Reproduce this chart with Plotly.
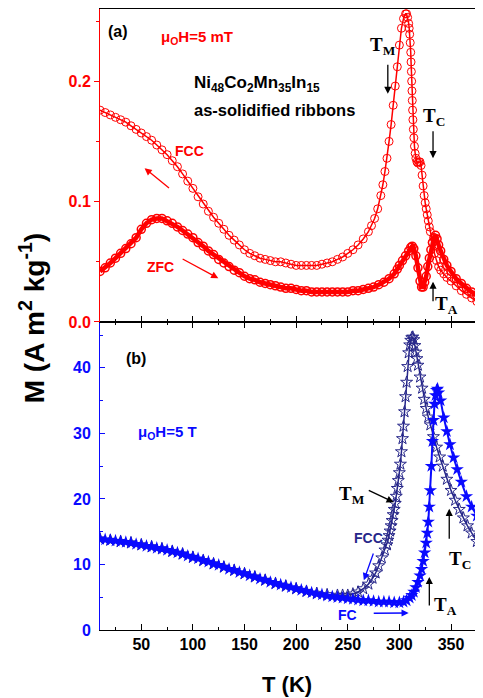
import plotly.graph_objects as go

# ---------------- data: panel (a) 5 mT ----------------
T_fcc_a = [10, 15, 20, 25, 30, 35, 40, 45, 50, 55, 60, 65, 70, 75, 80, 85, 90, 95, 100, 105,
           110, 115, 120, 125, 130, 135, 140, 145, 150, 155, 160, 165, 170, 175, 180, 185, 190,
           195, 200, 205, 210, 215, 220, 225, 230, 235, 240, 245, 250, 255, 260, 265, 270, 273,
           276, 279, 282, 284, 286, 288, 290, 292, 294, 296, 298, 300, 302, 304, 306, 307, 308,
           309, 309.5, 310, 310.5, 311, 311.3, 311.6, 311.9, 312.2, 312.5, 312.8, 313.1, 313.5,
           314, 314.6, 315.3, 316, 317, 318, 319, 320, 321, 322, 323, 324, 325, 326, 327, 328,
           329, 330, 332, 334, 336, 338, 340, 343, 346, 350, 355, 360, 365, 370, 375, 380]
M_fcc_a = [0.176, 0.174, 0.172, 0.170, 0.168, 0.166, 0.163, 0.160, 0.157, 0.154, 0.151, 0.147,
           0.143, 0.139, 0.134, 0.129, 0.123, 0.117, 0.111, 0.104, 0.098, 0.092, 0.087, 0.082,
           0.077, 0.072, 0.068, 0.064, 0.060, 0.057, 0.055, 0.053, 0.052, 0.051, 0.050, 0.050,
           0.049, 0.048, 0.047, 0.047, 0.047, 0.047, 0.047, 0.048, 0.049, 0.050, 0.052, 0.054,
           0.057, 0.060, 0.064, 0.069, 0.075, 0.080, 0.086, 0.094, 0.105, 0.114, 0.125, 0.136,
           0.150, 0.164, 0.180, 0.196, 0.212, 0.230, 0.244, 0.252, 0.256, 0.256, 0.253, 0.248,
           0.244, 0.239, 0.232, 0.224, 0.216, 0.208, 0.200, 0.192, 0.184, 0.176, 0.168, 0.160,
           0.153, 0.146, 0.140, 0.136, 0.133, 0.132, 0.133, 0.133, 0.130, 0.122, 0.113, 0.105,
           0.099, 0.094, 0.089, 0.084, 0.079, 0.075, 0.066, 0.057, 0.051, 0.046, 0.043, 0.040,
           0.037, 0.034, 0.030, 0.026, 0.023, 0.020, 0.017, 0.015]

T_zfc_a = [10, 15, 20, 25, 30, 35, 40, 45, 50, 55, 60, 65, 70, 75, 80, 85, 90, 95, 100, 105,
           110, 115, 120, 125, 130, 135, 140, 145, 150, 155, 160, 165, 170, 175, 180, 185, 190,
           195, 200, 205, 210, 215, 220, 225, 230, 235, 240, 245, 250, 255, 260, 265, 270, 275,
           280, 285, 290, 295, 298, 300, 303, 306, 309, 311, 312.5, 314, 316, 318, 320, 321.5,
           323, 324.5, 326, 327.5, 329, 330.5, 332, 333.5, 335, 336.5, 338, 340, 343, 346, 350,
           355, 360, 365, 370, 375, 380]
M_zfc_a = [0.042, 0.045, 0.049, 0.053, 0.057, 0.061, 0.065, 0.070, 0.077, 0.082, 0.085, 0.086,
           0.086, 0.084, 0.082, 0.079, 0.076, 0.073, 0.070, 0.066, 0.063, 0.059, 0.056, 0.052,
           0.049, 0.046, 0.043, 0.041, 0.038, 0.036, 0.035, 0.033, 0.032, 0.031, 0.030, 0.029,
           0.028, 0.028, 0.027, 0.026, 0.026, 0.025, 0.025, 0.025, 0.025, 0.025, 0.025, 0.025,
           0.025, 0.026, 0.026, 0.027, 0.028, 0.029, 0.031, 0.033, 0.036, 0.040, 0.044, 0.047,
           0.051, 0.055, 0.059, 0.062, 0.063, 0.061, 0.055, 0.045, 0.034, 0.029, 0.029, 0.033,
           0.038, 0.046, 0.053, 0.060, 0.066, 0.070, 0.072, 0.069, 0.064, 0.059, 0.052, 0.047,
           0.042, 0.036, 0.032, 0.028, 0.025, 0.022, 0.020]

# ---------------- data: panel (b) 5 T ----------------
T_fcc_b = [10, 20, 30, 40, 50, 60, 70, 80, 90, 100, 110, 120, 130, 140, 150, 160, 170, 180, 190,
           200, 210, 220, 230, 240, 245, 250, 255, 260, 265, 270, 274, 277, 280, 283, 286, 288,
           289, 290, 291, 292, 293, 294, 295, 296, 297, 298, 299, 300, 301, 302, 303, 304, 305,
           306, 307, 308, 309, 310, 311, 312, 313, 314, 315, 316, 317, 318, 320, 322, 324, 326,
           328, 330, 333, 336, 339, 342, 346, 350, 354, 358, 362, 366, 370, 375, 380]
M_fcc_b = [13.9, 13.7, 13.5, 13.3, 13.0, 12.7, 12.4, 12.0, 11.6, 11.1, 10.6, 10.1, 9.6, 9.1, 8.6,
           8.1, 7.6, 7.1, 6.7, 6.3, 5.9, 5.6, 5.4, 5.3, 5.3, 5.3, 5.5, 5.8, 6.3, 7.0, 7.9, 8.7,
           9.8, 11.0, 12.2, 13.0, 13.7, 14.4, 15.1, 15.9, 16.7, 17.6, 18.4, 19.3, 20.4, 21.6,
           22.8, 24.0, 25.3, 27.2, 29.2, 31.1, 33.3, 35.6, 37.8, 40.2, 42.3, 43.5, 44.2, 44.6,
           44.7, 44.3, 43.4, 42.4, 41.4, 40.4, 38.6, 36.9, 35.2, 33.8, 32.5, 31.3, 29.5, 27.9,
           26.4, 25.0, 23.0, 21.3, 19.8, 18.4, 17.1, 15.9, 14.8, 13.5, 12.2]

T_fc_b = [10, 15, 20, 25, 30, 35, 40, 45, 50, 55, 60, 65, 70, 75, 80, 85, 90, 95, 100, 105, 110,
          115, 120, 125, 130, 135, 140, 145, 150, 155, 160, 165, 170, 175, 180, 185, 190, 195,
          200, 205, 210, 215, 220, 225, 230, 235, 240, 245, 250, 255, 260, 265, 270, 275, 280,
          285, 290, 295, 300, 304, 307, 310, 312, 314, 316, 318, 320, 321.5, 323, 324.5, 326,
          327, 328, 329, 330, 331, 332, 333, 334, 335, 336, 337, 338, 340, 343, 346, 349, 352.5,
          356, 360, 365, 370, 375, 380]
M_fc_b = [13.9, 13.8, 13.7, 13.6, 13.5, 13.4, 13.3, 13.1, 13.0, 12.8, 12.7, 12.5, 12.4, 12.2,
          12.0, 11.8, 11.6, 11.3, 11.1, 10.9, 10.6, 10.4, 10.1, 9.9, 9.6, 9.3, 9.1, 8.8, 8.6,
          8.3, 8.1, 7.8, 7.6, 7.3, 7.1, 6.9, 6.7, 6.5, 6.3, 6.1, 5.9, 5.7, 5.5, 5.4, 5.2, 5.1,
          5.0, 4.9, 4.8, 4.7, 4.6, 4.5, 4.5, 4.4, 4.3, 4.3, 4.3, 4.2, 4.2, 4.3, 4.5, 4.9, 5.3,
          5.8, 6.5, 7.3, 8.3, 9.3, 10.5, 11.8, 13.3, 14.8, 16.5, 18.8, 21.3, 25.0, 28.8, 32.0,
          34.5, 35.8, 36.6, 36.8, 36.2, 35.0, 32.4, 30.3, 28.3, 26.3, 24.5, 22.6, 20.4, 18.8,
          17.4, 16.0]

x_ticks = [50, 100, 150, 200, 250, 300, 350]
ya_ticks = [0.0, 0.1, 0.2]
yb_ticks = [0, 10, 20, 30, 40]

RED = "#ff0000"
BLUE = "#0a0aff"
NAVY = "#27278a"
SANS = "Liberation Sans, Arial, sans-serif"
SERIF = "Liberation Serif, Times New Roman, serif"

fig = go.Figure()

fig.add_trace(go.Scatter(x=T_fcc_a, y=M_fcc_a, xaxis="x2", yaxis="y", mode="lines+markers",
                         line=dict(color=RED, width=1.5),
                         marker=dict(symbol="circle-open", size=8, color=RED, line=dict(width=1))))
fig.add_trace(go.Scatter(x=T_zfc_a, y=M_zfc_a, xaxis="x2", yaxis="y", mode="lines+markers",
                         line=dict(color=RED, width=4.5),
                         marker=dict(symbol="circle-open", size=8, color=RED, line=dict(width=1.5))))
fig.add_trace(go.Scatter(x=T_fcc_b, y=M_fcc_b, xaxis="x", yaxis="y2", mode="lines+markers",
                         line=dict(color=NAVY, width=1.5),
                         marker=dict(symbol="star-open", size=9, color=NAVY, line=dict(width=1))))
fig.add_trace(go.Scatter(x=T_fc_b, y=M_fc_b, xaxis="x", yaxis="y2", mode="lines+markers",
                         line=dict(color=BLUE, width=2),
                         marker=dict(symbol="star", size=10, color=BLUE)))

tickfont_k = dict(family=SANS, size=16, color="black", weight="bold")

fig.update_layout(
    width=475, height=690,
    margin=dict(l=92, r=0, t=1, b=68),
    paper_bgcolor="white", plot_bgcolor="white",
    showlegend=False,
    xaxis=dict(domain=[0, 1], anchor="y2", range=[10, 381], tickvals=x_ticks,
               ticks="inside", ticklen=6, tickwidth=1, tickcolor="black",
               minor=dict(dtick=25, tick0=0, ticks="inside", ticklen=3, tickcolor="black"),
               showline=True, linecolor="black", linewidth=1, mirror="ticks",
               showgrid=False, zeroline=False, tickfont=tickfont_k),
    xaxis2=dict(domain=[0, 1], anchor="y", range=[10, 381], matches="x", tickvals=x_ticks,
                ticks="inside", ticklen=6, tickwidth=1, tickcolor="black",
                minor=dict(dtick=25, tick0=0, ticks="inside", ticklen=3, tickcolor="black"),
                showticklabels=False, showline=True, linecolor="black", linewidth=1,
                mirror=True, showgrid=False, zeroline=False),
    yaxis=dict(domain=[0.496, 1], anchor="x2", range=[0, 0.26], tickvals=ya_ticks,
               tickformat=".1f", ticks="outside", ticklen=5, tickcolor=RED,
               minor=dict(tickvals=[0.05, 0.15, 0.25], ticks="outside", ticklen=3, tickcolor=RED),
               showline=True, linecolor=RED, linewidth=1, showgrid=False, zeroline=False,
               tickfont=dict(family=SANS, size=16, color=RED, weight="bold")),
    yaxis2=dict(domain=[0, 0.496], anchor="x", range=[0, 47], tickvals=yb_ticks,
                ticks="inside", ticklen=5, tickcolor=BLUE,
                minor=dict(tickvals=[5, 15, 25, 35, 45], ticks="inside", ticklen=3, tickcolor=BLUE),
                showline=True, linecolor=BLUE, linewidth=1, showgrid=False, zeroline=False,
                ticklabelstandoff=5,
                tickfont=dict(family=SANS, size=16, color=BLUE, weight="bold")),
)

ann = []

def txt(x, y, text, xr, yr, size, color="black", family=SANS, xanchor="center"):
    ann.append(dict(x=x, y=y, xref=xr, yref=yr, text=text, showarrow=False,
                    xanchor=xanchor, yanchor="middle",
                    font=dict(family=family, size=size, color=color, weight="bold")))

def arrow(x0, y0, x1, y1, xr, yr, color="black"):
    ann.append(dict(x=x1, y=y1, ax=x0, ay=y0, xref=xr, yref=yr, axref=xr, ayref=yr,
                    text="", showarrow=True, arrowhead=2, arrowsize=1.1, arrowwidth=1.3,
                    arrowcolor=color))

# panel (a)
txt(27.8, 0.241, "(a)", "x2", "y", 16)
txt(67.4, 0.236, "μ<sub>O</sub>H=5 mT", "x2", "y", 15, RED, xanchor="left")
txt(99.2, 0.198, "Ni<sub>48</sub>Co<sub>2</sub>Mn<sub>35</sub>In<sub>15</sub>", "x2", "y", 17, xanchor="left")
txt(99.2, 0.176, "as-solidified ribbons", "x2", "y", 16.5, xanchor="left")
txt(96.3, 0.142, "FCC", "x2", "y", 14, RED)
arrow(78.3, 0.1103, 53.2, 0.1278, "x2", "y", RED)
txt(68.3, 0.0457, "ZFC", "x2", "y", 14, RED)
arrow(88.6, 0.053, 124.6, 0.0363, "x2", "y", RED)
txt(284.6, 0.229, "T<sub>M</sub>", "x2", "y", 19, family=SERIF)
arrow(288.8, 0.215, 288.8, 0.1895, "x2", "y")
txt(333.9, 0.170, "T<sub>C</sub>", "x2", "y", 19, family=SERIF)
arrow(332.6, 0.1596, 332.6, 0.136, "x2", "y")
txt(345.5, 0.0145, "T<sub>A</sub>", "x2", "y", 19, family=SERIF)
arrow(332.6, 0.016, 332.6, 0.0335, "x2", "y")

# panel (b)
txt(45.2, 41.5, "(b)", "x", "y2", 16)
txt(45.2, 30.1, "μ<sub>O</sub>H=5 T", "x", "y2", 15, BLUE, xanchor="left")
txt(254.4, 20.6, "T<sub>M</sub>", "x", "y2", 19, family=SERIF)
arrow(268.9, 21.4, 294.5, 19.5, "x", "y2")
txt(270.1, 14.0, "FCC", "x", "y2", 14, NAVY)
arrow(275.3, 11.9, 265.6, 7.6, "x", "y2", BLUE)
txt(249.6, 2.3, "FC", "x", "y2", 14, BLUE)
arrow(273.7, 2.55, 309, 2.6, "x", "y2", BLUE)
txt(344.5, 3.7, "T<sub>A</sub>", "x", "y2", 19, family=SERIF)
arrow(329, 3.5, 329, 8.1, "x", "y2")
txt(359, 10.7, "T<sub>C</sub>", "x", "y2", 19, family=SERIF)
arrow(348.3, 13.7, 348.3, 18.5, "x", "y2")

# axis titles
ann.append(dict(x=-0.1775, y=0.502, xref="paper", yref="paper", text="M (A m<sup>2</sup> kg<sup>-1</sup>)",
                showarrow=False, textangle=-90, xanchor="center", yanchor="middle",
                font=dict(family=SANS, size=28, color="black", weight="bold")))
ann.append(dict(x=0.488, y=-0.087, xref="paper", yref="paper", text="T (K)",
                showarrow=False, xanchor="center", yanchor="middle",
                font=dict(family=SANS, size=22, color="black", weight="bold")))

fig.update_layout(annotations=ann)

fig.write_html("out.html")
